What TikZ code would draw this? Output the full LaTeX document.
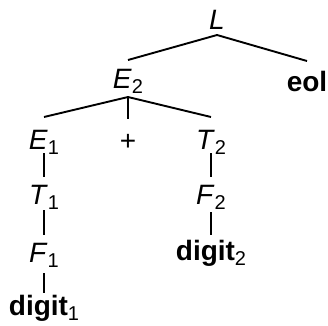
\documentclass[tikz,border=0pt]{standalone}
\usepackage{fontspec}
\setmainfont{Liberation Sans}
% subscript set a little below the baseline
\newcommand\lowsub[1]{\raisebox{-5pt}{\fontsize{20}{20}\selectfont #1}}
\begin{document}
\begin{tikzpicture}[x=1pt,y=-1pt,
  sym/.style={anchor=base,inner sep=0pt,outer sep=0pt,text height=20pt,text depth=0pt,
    font=\fontsize{28}{28}\selectfont},
  branch/.style={line width=1.9pt}]
\useasboundingbox (0,0) rectangle (328,325);

% grammar symbols of the parse tree
\node[sym] (L)   at (217,29)  {\textit{L}};
\node[sym] (E2)  at (128,88)  {\textit{E}\lowsub{2}};
\node[sym] (eol) at (307,91)  {\textbf{eol}};
\node[sym] (E1)  at (44,149)  {\textit{E}\lowsub{1}};
\node[sym] (plus) at (128,150) {+};
\node[sym] (T2)  at (211,149) {\textit{T}\lowsub{2}};
\node[sym] (T1)  at (44,204)  {\textit{T}\lowsub{1}};
\node[sym] (F2)  at (211,204) {\textit{F}\lowsub{2}};
\node[sym] (F1)  at (44,262)  {\textit{F}\lowsub{1}};
\node[sym] (d2)  at (211,260) {\textbf{digit}\lowsub{2}};
\node[sym] (d1)  at (44,315)  {\textbf{digit}\lowsub{1}};

% branches
\draw[branch] ([yshift=8pt]E2.north) -- ([yshift=-6pt]L.south) -- ([yshift=10pt]eol.north);
\draw[branch] ([yshift=12pt]E1.north) -- ([yshift=-9pt]E2.south) -- ([yshift=12pt]T2.north);
\draw[branch] ([yshift=-9pt]E2.south) -- ([yshift=11pt]plus.north);
\draw[branch] ([yshift=-4pt]E1.south) -- ([yshift=7pt]T1.north);
\draw[branch] ([yshift=-6pt]T1.south) -- ([yshift=7pt]F1.north);
\draw[branch] ([yshift=-11pt]F1.south) -- ([yshift=2pt]d1.north);
\draw[branch] ([yshift=-4pt]T2.south) -- ([yshift=7pt]F2.north);
\draw[branch] ([yshift=-8pt]F2.south) -- ([yshift=5pt]d2.north);
\end{tikzpicture}
\end{document}
